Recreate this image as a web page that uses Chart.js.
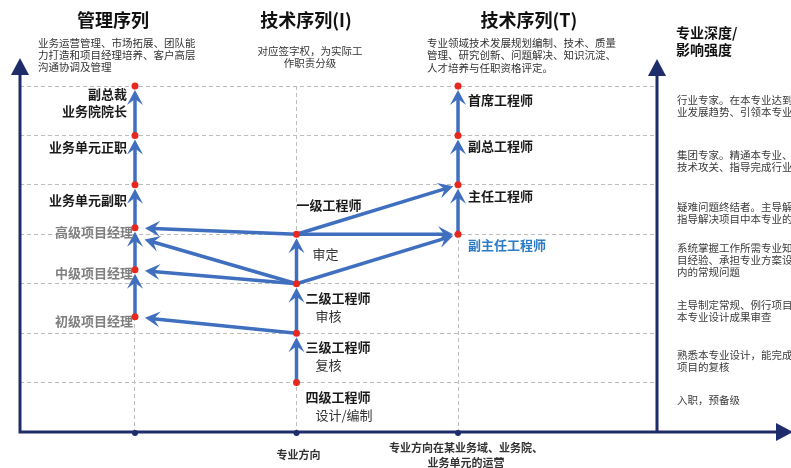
<!DOCTYPE html>
<html>
<head>
<meta charset="utf-8">
<script src="https://cdn.jsdelivr.net/npm/chart.js@4.4.1/dist/chart.umd.min.js"></script>
<style>
  html, body { margin: 0; padding: 0; background: #fff; }
</style>
</head>
<body>
<canvas id="chart" width="791" height="468"></canvas>
<script>
// columns on the x axis
const columns = [1, 2, 3];
const columnTitles = ['管理序列', '技术序列(I)', '技术序列(T)'];

// management ladder (col 1)
const mgmtRanks = ['初级项目经理', '中级项目经理', '高级项目经理', '业务单元副职', '业务单元正职', '副总裁\n业务院院长'];
const mgmtLevels = [2.33, 3.28, 4.13, 5, 6, 7];

// technical ladder I (col 2)
const techIRanks = ['四级工程师', '三级工程师', '二级工程师', '一级工程师'];
const techIDuties = ['设计/编制', '复核', '审核', '审定'];
const techILevels = [1, 2, 3, 4];

// technical ladder T (col 3)
const techTRanks = ['副主任工程师', '主任工程师', '副总工程师', '首席工程师'];
const techTLevels = [4, 5, 6, 7];

// transfers between ladders: [fromCol, fromLevel, toCol, toLevel]
const crossLinks = [
  [2, 4, 3, 5],
  [2, 4, 3, 4],
  [2, 3, 3, 4],
  [2, 4, 1, 4.13],
  [2, 3, 1, 3.95],
  [2, 3, 1, 3.28],
  [2, 2, 1, 2.33],
];

const gridLevels = [0, 1, 2, 3, 4, 5, 6, 7];

const depthNotes = [
  ['行业专家。在本专业达到国内领先水平，把握行', '业发展趋势、引领本专业发展方向'],
  ['集团专家。精通本专业、主导重大项目的', '技术攻关、指导完成行业标准编制'],
  ['疑难问题终结者。主导解决复杂技术问题，', '指导解决项目中本专业的疑难问题'],
  ['系统掌握工作所需专业知识，具备丰富项', '目经验、承担专业方案设计，解决专业', '内的常规问题'],
  ['主导制定常规、例行项目的设计方案，负责', '本专业设计成果审查'],
  ['熟悉本专业设计，能完成一般项目设计及', '项目的复核'],
  ['入职，预备级'],
];

const BLUE = '#3F6FBE';
const NAVY = '#1E2C6B';
const RED = '#E8281E';
const CJK = '"Noto Sans CJK SC", "Noto Sans", sans-serif';

function arrowHead(ctx, x, y, ang, len, half) {
  ctx.save();
  ctx.translate(x, y);
  ctx.rotate(ang);
  ctx.beginPath();
  ctx.moveTo(0, 0);
  ctx.lineTo(-len, -half);
  ctx.lineTo(-len * 0.6, 0);
  ctx.lineTo(-len, half);
  ctx.closePath();
  ctx.fill();
  ctx.restore();
}

function arrow(ctx, x1, y1, x2, y2, gap) {
  const ang = Math.atan2(y2 - y1, x2 - x1);
  const tx = x2 - Math.cos(ang) * gap, ty = y2 - Math.sin(ang) * gap;
  ctx.beginPath();
  ctx.moveTo(x1, y1);
  ctx.lineTo(tx - Math.cos(ang) * 8, ty - Math.sin(ang) * 8);
  ctx.stroke();
  arrowHead(ctx, tx, ty, ang, 15, 8);
}

function txt(ctx, s, x, y, font, color, align) {
  ctx.font = font;
  ctx.fillStyle = color;
  ctx.textAlign = align || 'left';
  ctx.textBaseline = 'middle';
  ctx.fillText(s, x, y);
}

const ladders = {
  id: 'ladders',
  beforeDatasetsDraw(chart) {
    const { ctx, scales: { x, y } } = chart;
    ctx.save();
    ctx.strokeStyle = BLUE;
    ctx.fillStyle = BLUE;
    ctx.lineWidth = 3.5;
    ctx.lineCap = 'butt';
    [[1, mgmtLevels], [2, techILevels], [3, techTLevels]].forEach(([c, lv]) => {
      for (let i = 0; i < lv.length - 1; i++) {
        arrow(ctx, x.getPixelForValue(c), y.getPixelForValue(lv[i]),
              x.getPixelForValue(c), y.getPixelForValue(lv[i + 1]), 4);
      }
    });
    crossLinks.forEach(([c1, l1, c2, l2]) => {
      arrow(ctx, x.getPixelForValue(c1), y.getPixelForValue(l1),
            x.getPixelForValue(c2), y.getPixelForValue(l2), c2 === 1 ? 10 : 5);
    });
    ctx.restore();
  },
  afterDraw(chart) {
    const { ctx, chartArea: a, scales: { x, y } } = chart;
    ctx.save();
    // axes
    ctx.strokeStyle = NAVY;
    ctx.fillStyle = NAVY;
    ctx.lineWidth = 3;
    ctx.beginPath();
    ctx.moveTo(a.left, 70);
    ctx.lineTo(a.left, a.bottom);
    ctx.lineTo(783, a.bottom);
    ctx.moveTo(a.right, 70);
    ctx.lineTo(a.right, a.bottom);
    ctx.stroke();
    [[a.left, 58, -Math.PI / 2], [a.right, 59, -Math.PI / 2], [793, a.bottom, 0]].forEach(([px, py, ang]) => {
      ctx.save();
      ctx.translate(px, py);
      ctx.rotate(ang);
      ctx.beginPath();
      ctx.moveTo(0, 0);
      ctx.lineTo(-17, -9);
      ctx.lineTo(-17, 9);
      ctx.closePath();
      ctx.fill();
      ctx.restore();
    });
    columns.forEach(c => {
      ctx.beginPath();
      ctx.arc(x.getPixelForValue(c), a.bottom + 1, 3, 0, Math.PI * 2);
      ctx.fill();
    });

    // headers
    const hx = [113, 306, 529];
    columnTitles.forEach((t, i) => txt(ctx, t, hx[i], 20, `bold 18px ${CJK}`, '#111', 'center'));
    const f10 = `10.5px ${CJK}`;
    ['业务运营管理、市场拓展、团队能', '力打造和项目经理培养、客户高层', '沟通协调及管理']
      .forEach((s, i) => txt(ctx, s, 38, 43 + i * 12, f10, '#333'));
    ['对应签字权，为实际工', '作职责分级']
      .forEach((s, i) => txt(ctx, s, 310, 51 + i * 12, f10, '#333', 'center'));
    ['专业领域技术发展规划编制、技术、质量', '管理、研究创新、问题解决、知识沉淀、', '人才培养与任职资格评定。']
      .forEach((s, i) => txt(ctx, s, 427, 43 + i * 12.5, f10, '#333'));
    txt(ctx, '专业深度/', 676, 33, `bold 14px ${CJK}`, '#111');
    txt(ctx, '影响强度', 676, 50, `bold 14px ${CJK}`, '#111');

    // right notes
    const noteY = [100, 155, 207, 248, 305, 355, 400];
    depthNotes.forEach((lines, i) => lines.forEach((s, j) =>
      txt(ctx, s, 677, noteY[i] + j * 12, f10, '#3a3a3a')));

    // management labels
    const fb = `bold 13px ${CJK}`;
    const mOff = [4, 3, 4, 15, 12, 8];
    mgmtRanks.forEach((s, i) => {
      const gray = i < 3;
      const px = x.getPixelForValue(1) - (gray ? 2 : 8);
      const py = y.getPixelForValue(mgmtLevels[i]) + mOff[i];
      s.split('\n').forEach((line, j) =>
        txt(ctx, line, px, py + j * 17, fb, gray ? '#7F7F7F' : '#1a1a1a', 'right'));
    });

    // tech I labels
    const f13 = `13px ${CJK}`;
    techIRanks.forEach((s, i) => {
      const cx = x.getPixelForValue(2), cy = y.getPixelForValue(techILevels[i]);
      if (i === 3) {
        txt(ctx, s, cx, cy - 29, fb, '#1a1a1a');
        txt(ctx, techIDuties[i], cx + 16, cy + 20, f13, '#333');
      } else {
        txt(ctx, s, cx + 9, cy + 14, fb, '#1a1a1a');
        txt(ctx, techIDuties[i], cx + 19, cy + 32, f13, '#333');
      }
    });

    // tech T labels
    techTRanks.forEach((s, i) => {
      const cx = x.getPixelForValue(3), cy = y.getPixelForValue(techTLevels[i]);
      txt(ctx, s, cx + 10, cy + (i === 3 ? 14 : 11), fb, i === 0 ? '#2B7BC6' : '#1a1a1a');
    });

    // bottom captions
    const fs = `bold 11px ${CJK}`;
    txt(ctx, '专业方向', x.getPixelForValue(2) + 2, 455, fs, '#333', 'center');
    txt(ctx, '专业方向在某业务域、业务院、', x.getPixelForValue(3) + 8, 448, fs, '#333', 'center');
    txt(ctx, '业务单元的运营', x.getPixelForValue(3) + 8, 463, fs, '#333', 'center');
    ctx.restore();
  }
};

const dots = [
  ...mgmtLevels.map(v => ({ x: 1, y: v })),
  ...techILevels.map(v => ({ x: 2, y: v })),
  ...techTLevels.map(v => ({ x: 3, y: v })),
];

new Chart(document.getElementById('chart'), {
  type: 'scatter',
  data: {
    datasets: [{
      data: dots,
      pointBackgroundColor: RED,
      pointBorderWidth: 0,
      pointRadius: 3.5,
      clip: false,
    }]
  },
  options: {
    responsive: false,
    animation: false,
    layout: { padding: { left: 20, right: 134, top: 86, bottom: 36 } },
    plugins: { legend: { display: false }, tooltip: { enabled: false } },
    scales: {
      x: {
        type: 'linear',
        min: 0.288,
        max: 4.232,
        afterBuildTicks: ax => { ax.ticks = columns.map(v => ({ value: v })); },
        ticks: { display: false },
        grid: { color: '#BDBDBD', lineWidth: 1, drawTicks: false },
        border: { display: false, dash: [4, 3] },
      },
      y: {
        type: 'linear',
        min: 0,
        max: 7,
        afterBuildTicks: ax => { ax.ticks = gridLevels.map(v => ({ value: v })); },
        ticks: { display: false },
        grid: { color: '#BDBDBD', lineWidth: 1, drawTicks: false },
        border: { display: false, dash: [4, 3] },
      }
    }
  },
  plugins: [ladders]
});
</script>
</body>
</html>
